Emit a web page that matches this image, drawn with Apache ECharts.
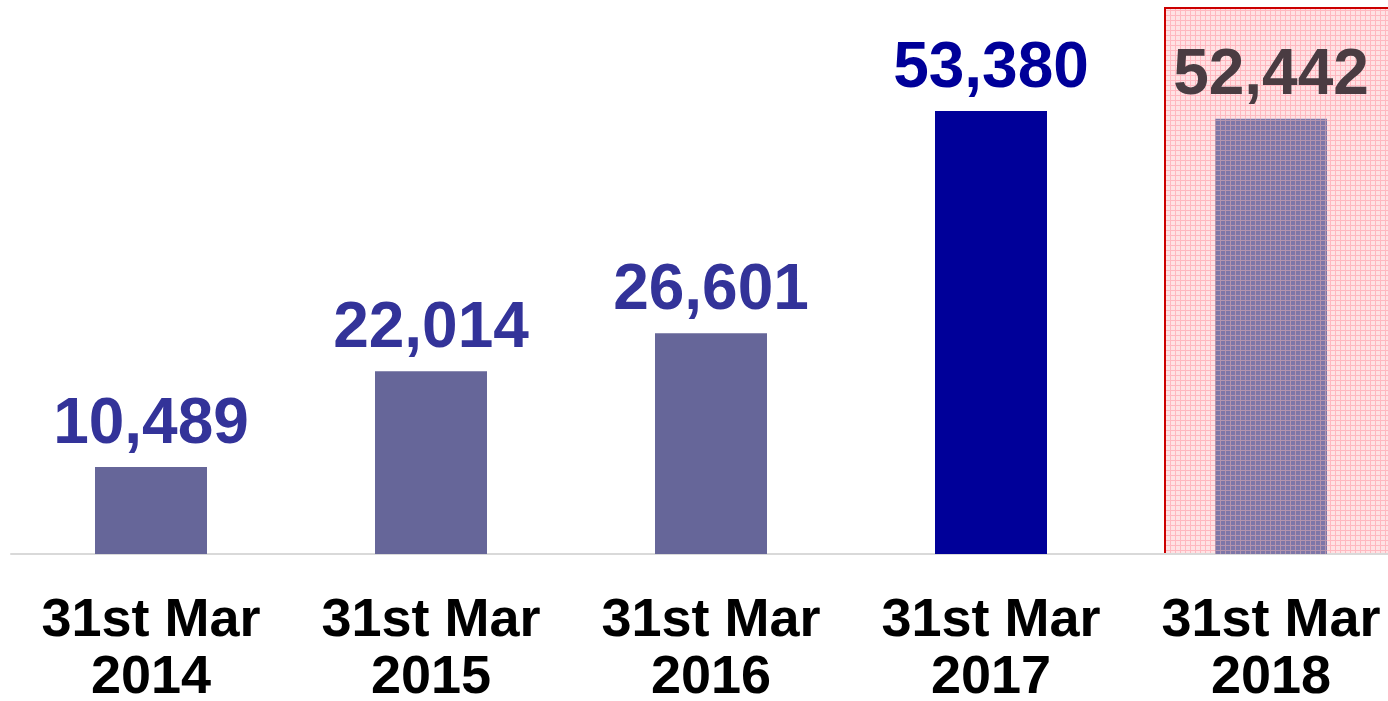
<!DOCTYPE html>
<html>
<head>
<meta charset="utf-8">
<script src="https://cdn.jsdelivr.net/npm/echarts@6/dist/echarts.min.js"></script>
<style>
  html, body { margin: 0; padding: 0; background: #fff; }
  #chart { width: 1388px; height: 701px; }
</style>
</head>
<body>
<div id="chart"></div>
<script>
// data
const categories = ['31st Mar\n2014', '31st Mar\n2015', '31st Mar\n2016', '31st Mar\n2017', '31st Mar\n2018']
const values = [10489, 22014, 26601, 53380, 52442]
const barColors = ['#666699', '#666699', '#666699', '#000099', null]
const labelColors = ['#333399', '#333399', '#333399', '#000099', '#4a3c42']
const highlightIdx = 4

// small grid textures for the highlighted year
function makePattern(base, line, step) {
  const c = document.createElement('canvas')
  c.width = step
  c.height = step
  const ctx = c.getContext('2d')
  ctx.fillStyle = base
  ctx.fillRect(0, 0, step, step)
  ctx.fillStyle = line
  ctx.fillRect(0, 0, step, 1)
  ctx.fillRect(0, 0, 1, step)
  return c
}
const barPattern = { image: makePattern('#7d76a8', '#b394ad', 5), repeat: 'repeat' }
const boxPattern = { image: makePattern('#ffe2e4', '#ffb8c0', 5), repeat: 'repeat' }

const chart = echarts.init(document.getElementById('chart'))

const option = {
  animation: false,
  grid: {
    left: 11,
    width: 1400,
    top: 56,
    bottom: 147,
    containLabel: false,
    outerBoundsMode: 'none'
  },
  xAxis: {
    type: 'category',
    data: categories,
    axisLine: { lineStyle: { color: '#d9d9d9', width: 2 } },
    axisTick: { show: false },
    axisLabel: {
      interval: 0,
      color: '#000',
      fontFamily: 'Liberation Sans, Arial, sans-serif',
      fontWeight: 'bold',
      fontSize: 54,
      lineHeight: 57,
      margin: 39
    }
  },
  yAxis: {
    type: 'value',
    min: 0,
    max: 60000,
    show: false,
    splitLine: { show: false }
  },
  series: [
    {
      type: 'bar',
      barWidth: 112,
      z: 2,
      data: values.map((v, i) => ({
        value: v,
        itemStyle: { color: i === highlightIdx ? barPattern : barColors[i] },
        label: { color: labelColors[i] }
      })),
      label: {
        show: true,
        position: 'top',
        distance: 10,
        fontFamily: 'Liberation Sans, Arial, sans-serif',
        fontWeight: 'bold',
        fontSize: 64,
        formatter: (p) => p.value.toLocaleString('en-US')
      }
    }
  ]
}
chart.setOption(option)

// red highlight box behind the last year, placed from the axes
const cx = chart.convertToPixel({ xAxisIndex: 0 }, highlightIdx)
const baseY = chart.convertToPixel({ yAxisIndex: 0 }, 0)
chart.setOption({
  graphic: [
    {
      type: 'rect',
      z: 0,
      shape: { x: cx - 106, y: 8, width: 260, height: baseY - 8 },
      style: { fill: boxPattern, stroke: '#cc0000', lineWidth: 2 }
    }
  ]
})
</script>
</body>
</html>
